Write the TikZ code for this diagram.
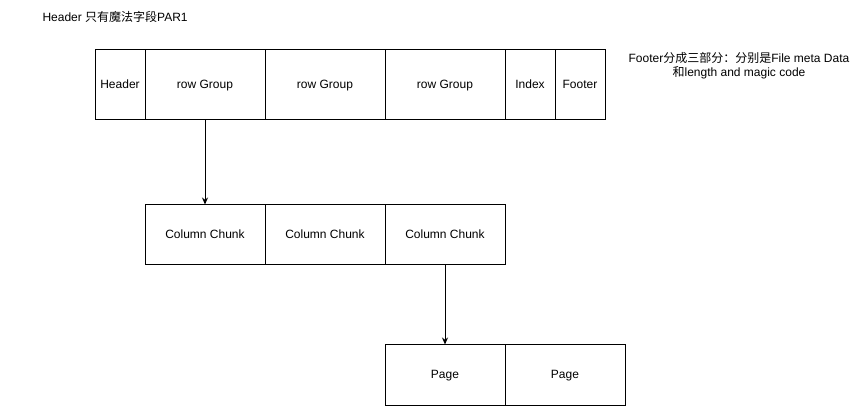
\documentclass[tikz,border=0pt]{standalone}
\usepackage{fontspec}
\setmainfont{Liberation Sans}
\newfontfamily\cjk{Noto Sans CJK SC}
\usetikzlibrary{arrows.meta}

\begin{document}
\begin{tikzpicture}[x=1pt, y=-1pt, font=\fontsize{12}{14}\selectfont, line width=1pt,
	cell/.style={draw, rectangle, inner sep=0pt, minimum width=120pt, minimum height=60pt, text height=8.6pt, text depth=2.4pt},
	narrow/.style={cell, minimum width=50pt},
	tall/.style={minimum height=70pt},
	note/.style={inner sep=0pt, align=center}]
				\useasboundingbox (0, 0) rectangle (855, 406);
				% Nodes
				\node[cell, narrow, tall] (header) at (120, 85) {Header};
				\node[cell, tall] (rg1) at (205, 85) {row Group};
				\node[cell, tall] (rg2) at (325, 85) {row Group};
				\node[cell, tall] (rg3) at (445, 85) {row Group};
				\node[cell, narrow, tall] (index) at (530, 85) {Index};
				\node[cell, narrow, tall] (footer) at (580, 85) {Footer};

				\node[cell] (cc1) at (205, 235) {Column Chunk};
				\node[cell] (cc2) at (325, 235) {Column Chunk};
				\node[cell] (cc3) at (445, 235) {Column Chunk};

				\node[cell] (page1) at (445, 375) {Page};
				\node[cell] (page2) at (565, 375) {Page};

				\node[note, anchor=west] (headernote) at (42, 17) {Header {\cjk 只有魔法字段}PAR1};
				\node[note] (footernote) at (739, 66) {Footer{\cjk 分成三部分：分别是}File meta Data\\{\cjk 和}length and magic code};

				% Edges
				\draw[-{Stealth[length=7pt, width=6pt]}] (rg1) -- (cc1);
				\draw[-{Stealth[length=7pt, width=6pt]}] (cc3) -- (page1);
			\end{tikzpicture}
\end{document}
